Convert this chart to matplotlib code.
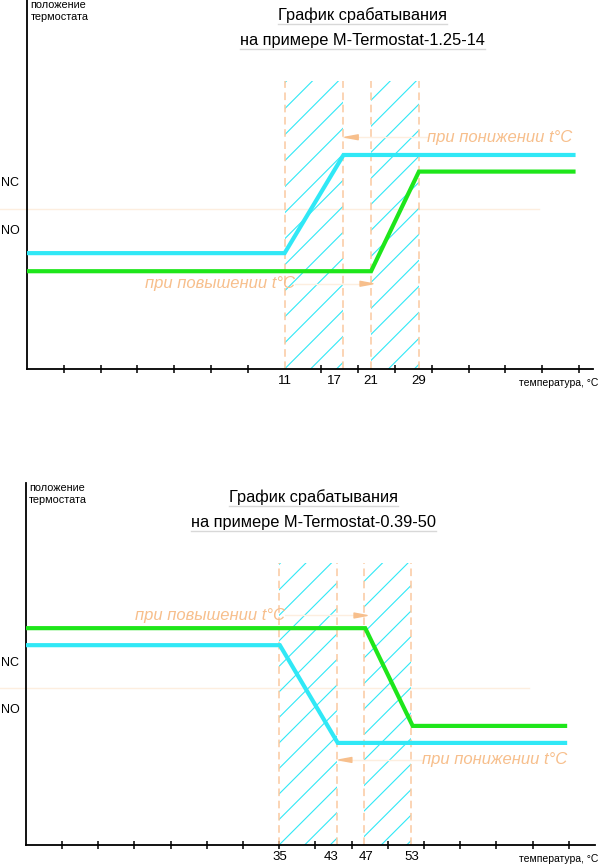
import matplotlib
import matplotlib.pyplot as plt
import numpy as np
from matplotlib.lines import Line2D
from matplotlib.patches import Rectangle
from matplotlib.transforms import blended_transform_factory

matplotlib.use("Agg")

plt.rcParams["font.family"] = ["Liberation Sans", "DejaVu Sans"]

# --- Data (schematic axis units: 1 = one tick step) ---
tick_steps = list(range(1, 16))
switch_pos = [7.0, 8.6, 9.35, 10.65]  # where the dashed lines sit on the axis

# top chart: M-Termostat-1.25-14
top_title = ["График срабатывания", "на примере M-Termostat-1.25-14"]
top_labels = ["11", "17", "21", "29"]
top_label_pos = [7.0, 8.35, 9.35, 10.64]
top_cyan_x = [0, 7.0, 8.6, 14.85]
top_cyan_y = [3.14, 3.14, 5.80, 5.80]
top_green_x = [0, 9.35, 10.65, 14.85]
top_green_y = [2.65, 2.65, 5.35, 5.35]
top_nc_no = [5.04, 3.74]
top_ref = 4.33

# bottom chart: M-Termostat-0.39-50
bot_title = ["График срабатывания", "на примере M-Termostat-0.39-50"]
bot_labels = ["35", "43", "47", "53"]
bot_label_pos = [7.02, 8.43, 9.40, 10.66]
bot_cyan_x = [0, 7.02, 8.62, 14.9]
bot_cyan_y = [5.52, 5.52, 2.82, 2.82]
bot_green_x = [0, 9.38, 10.69, 14.9]
bot_green_y = [5.99, 5.99, 3.29, 3.29]
bot_nc_no = [5.04, 3.73]
bot_ref = 4.34

# --- Styles ---
cyan = "#30e8f6"
green = "#1ee61a"
orange_txt = "#f7bf8c"
orange_dash = "#fbc9a0"
faint = "#fdeedf"
hatch_top = 7.8
hatch_step = 0.705

fig = plt.figure(figsize=(6, 8.66), dpi=100)
fig.patch.set_facecolor("white")

ax_top = fig.add_axes([27 / 600, 497 / 866, 566 / 600, 369 / 866])
ax_bot = fig.add_axes([25.7 / 600, 21 / 866, 569.3 / 600, 362 / 866])


def hatch_zone(ax, x0, x1, phase):
    clip = Rectangle((x0, 0), x1 - x0, hatch_top, fill=False, edgecolor="none")
    ax.add_patch(clip)
    for k in range(-30, 30):
        xs = np.array([x0, x1])
        ln, = ax.plot(xs, xs - phase + k * hatch_step, color=cyan, lw=0.8, zorder=1)
        ln.set_clip_path(clip)


def draw_panel(ax, xmax, labels, label_pos, cyan_x, cyan_y, green_x, green_y,
               nc_no, ref, title, title_x, upper, lower):
    ax.set_xlim(0, xmax)
    ax.set_ylim(0, 10)
    for s in ["top", "right"]:
        ax.spines[s].set_visible(False)
    ax.spines["left"].set_linewidth(1.3)
    ax.spines["bottom"].set_linewidth(1.3)
    ax.set_yticks([])

    ax.set_xticks(tick_steps, minor=True)
    ax.set_xticks(label_pos)
    ax.set_xticklabels(labels, fontsize=9.5)
    ax.tick_params(axis="x", which="minor", direction="inout", length=6, width=1.1)
    ax.tick_params(axis="x", which="major", length=0, pad=4.5)

    # hatched switching zones
    hatch_zone(ax, switch_pos[0], switch_pos[1], switch_pos[0])
    hatch_zone(ax, switch_pos[2], switch_pos[3], switch_pos[0])
    for xp in switch_pos:
        ax.plot([xp, xp], [0, hatch_top], color=orange_dash, lw=1.1,
                dashes=(5, 3), zorder=2)

    # faint reference line
    ax.plot([-0.73, 13.9], [ref, ref], color=faint, lw=1, clip_on=False, zorder=0)

    ax.plot(cyan_x, cyan_y, color=cyan, lw=3, solid_joinstyle="miter", zorder=4)
    ax.plot(green_x, green_y, color=green, lw=3, solid_joinstyle="miter", zorder=4)

    # NC / NO
    tr = blended_transform_factory(fig.transFigure, ax.transData)
    for lab, yv in zip(["NC", "NO"], nc_no):
        ax.text(0.002, yv, lab, transform=tr, fontsize=9, va="center", ha="left")

    ax.text(0.1, 10, "положение\nтермостата", fontsize=7.8, va="top", ha="left",
            linespacing=1.3)
    tr2 = blended_transform_factory(fig.transFigure, ax.transData)
    ax.text(0.997, -0.38, "температура, °C", transform=tr2, fontsize=7.5,
            va="center", ha="right", clip_on=False)

    # direction labels with small arrows
    for (tip, tail, yv, txt, tx, ha, gx) in (upper, lower):
        ax.plot(gx, [yv, yv], color=faint, lw=1, zorder=1)
        ax.annotate("", xy=(tip, yv), xytext=(tail, yv),
                    arrowprops=dict(arrowstyle="wedge,tail_width=0.35",
                                    color=orange_txt, shrinkA=0, shrinkB=0), zorder=3)
        ax.text(tx, yv, txt, color=orange_txt, fontsize=12, style="italic",
                ha=ha, va="center", zorder=3)

    texts = []
    for line, yv in zip(title, [9.6, 8.9]):
        texts.append(ax.text(title_x, yv, line, fontsize=11.8, ha="center", va="center"))
    return texts


up_t = draw_panel(
    ax_top, 566 / 36.8, top_labels, top_label_pos, top_cyan_x, top_cyan_y,
    top_green_x, top_green_y, top_nc_no, top_ref, top_title, 9.12,
    (8.64, 9.0, 6.28, "при понижении t°C", 10.87, "left", [8.6, 10.87]),
    (9.40, 9.05, 2.31, "при повышении t°C", 7.28, "right", [7.28, 9.35]),
)
lo_t = draw_panel(
    ax_bot, 569.3 / 36.2, bot_labels, bot_label_pos, bot_cyan_x, bot_cyan_y,
    bot_green_x, bot_green_y, bot_nc_no, bot_ref, bot_title, 7.96,
    (9.43, 9.07, 6.34, "при повышении t°C", 7.16, "right", [7.16, 9.38]),
    (8.65, 9.01, 2.35, "при понижении t°C", 10.95, "left", [8.62, 10.95]),
)

# light underline under the title lines
fig.canvas.draw()
renderer = fig.canvas.get_renderer()
for t in up_t + lo_t:
    bb = t.get_window_extent(renderer)
    fig.add_artist(Line2D([bb.x0, bb.x1], [bb.y0 - 1, bb.y0 - 1], color="#d8d8d8",
                          lw=1, transform=None))

fig.savefig("out.png", dpi=100)
